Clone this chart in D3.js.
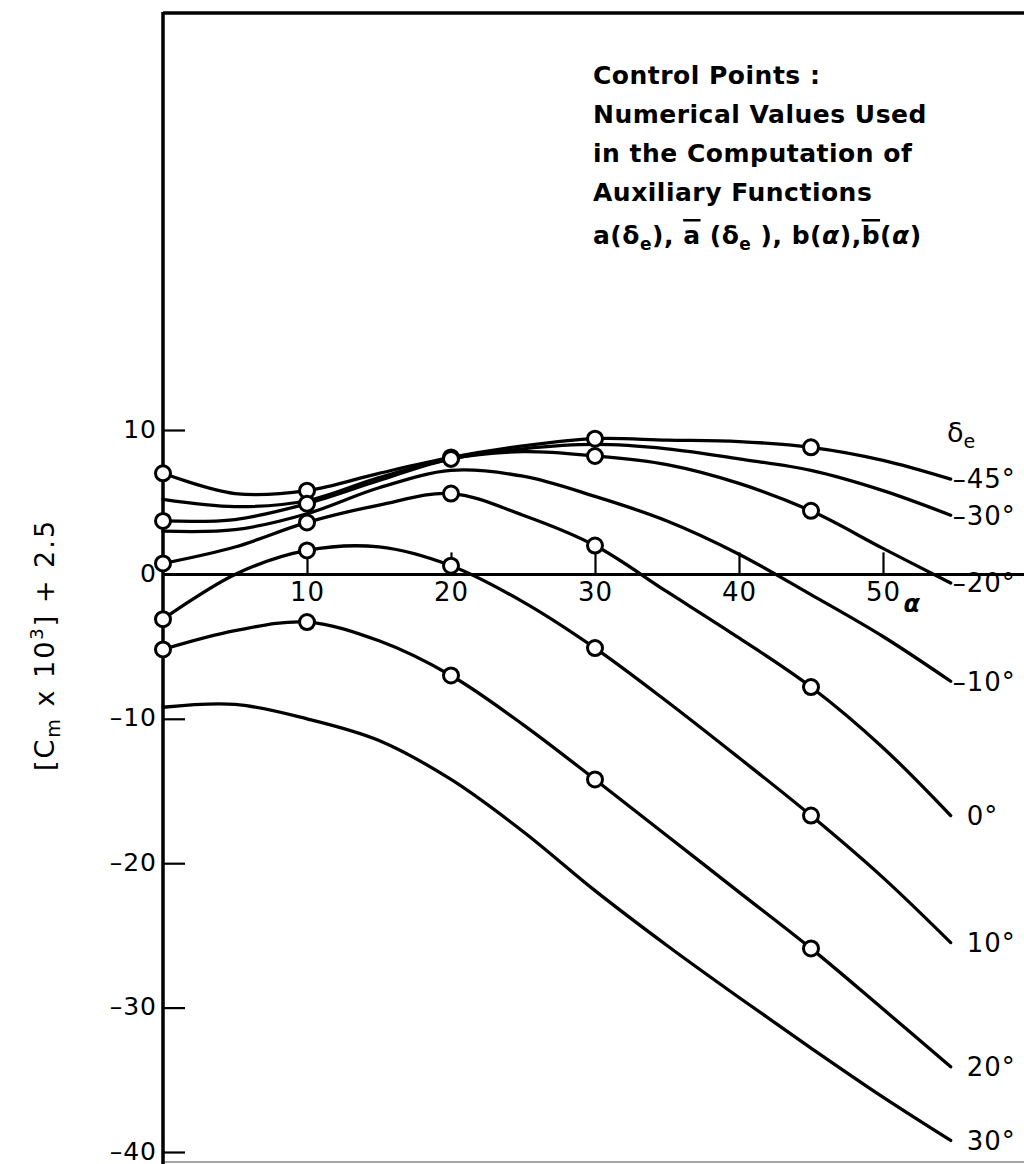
<!DOCTYPE html>
<html>
<head>
<meta charset="utf-8">
<script src="https://cdn.jsdelivr.net/npm/d3@7"></script>
<style>
  html, body { margin: 0; padding: 0; background: #fff; }
  svg { display: block; }
  text { font-family: "DejaVu Sans", sans-serif; fill: #000; }
</style>
</head>
<body>
<svg id="chart" width="1024" height="1164"></svg>
<script>
// ---- data ----
const alphaGrid = [0, 5, 10, 15, 20, 25, 30, 35, 40, 45, 50, 54.7];
const deltaLabels = ["-45°", "-30°", "-20°", "-10°", "0°", "10°", "20°", "30°"];
const cmDeltaM45 = [7.0, 5.6, 5.8, 7.0, 8.1, 8.9, 9.4, 9.3, 9.2, 8.8, 7.9, 6.6];
const cmDeltaM30 = [5.2, 4.7, 5.1, 6.7, 8.0, 8.7, 9.0, 8.7, 8.0, 7.2, 5.8, 4.1];
const cmDeltaM20 = [3.7, 3.8, 4.9, 6.5, 8.0, 8.5, 8.2, 7.6, 6.3, 4.4, 1.8, -0.6];
const cmDeltaM10 = [3.0, 3.1, 4.2, 6.0, 7.2, 6.8, 5.4, 3.7, 1.4, -1.4, -4.3, -7.4];
const cmDelta0   = [0.76, 1.9, 3.6, 4.8, 5.6, 4.1, 2.0, -1.2, -4.4, -7.8, -12.0, -16.7];
const cmDelta10  = [-3.1, 0.0, 1.66, 1.9, 0.6, -1.9, -5.1, -8.8, -12.7, -16.7, -21.0, -25.5];
const cmDelta20  = [-5.2, -3.9, -3.3, -4.6, -7.0, -10.4, -14.2, -18.1, -22.0, -25.9, -30.1, -34.1];
const cmDelta30  = [-9.2, -9.0, -10.0, -11.5, -14.2, -17.8, -21.9, -25.7, -29.3, -32.8, -36.2, -39.2];
const seriesValues = [cmDeltaM45, cmDeltaM30, cmDeltaM20, cmDeltaM10, cmDelta0, cmDelta10, cmDelta20, cmDelta30];
const controlAlpha = [0, 10, 20, 30, 45];
const controlCurves = ["-45°", "-20°", "0°", "10°", "20°"];
const xTickValues = [10, 20, 30, 40, 50];
const yTickValues = [10, 0, -10, -20, -30, -40];
const noteLines = ["Control Points :", "Numerical Values Used", "in the Computation of", "Auxiliary Functions"];

// ---- layout ----
const svg = d3.select("#chart");
const x = d3.scaleLinear().domain([0, 50]).range([163, 883]);
const y = d3.scaleLinear().domain([-40, 10]).range([1152, 430]);
const LW = 3.3;

// frame
svg.append("line").attr("x1", 163).attr("x2", 1024).attr("y1", 13).attr("y2", 13)
  .attr("stroke", "#000").attr("stroke-width", 3.5);
svg.append("line").attr("x1", 163).attr("x2", 1024).attr("y1", 1162).attr("y2", 1162)
  .attr("stroke", "#888").attr("stroke-width", 1.5);
svg.append("line").attr("x1", 163).attr("x2", 163).attr("y1", 12).attr("y2", 1164)
  .attr("stroke", "#000").attr("stroke-width", 3.5);
// x axis line at 0
svg.append("line").attr("x1", 163).attr("x2", 1024).attr("y1", y(0)).attr("y2", y(0))
  .attr("stroke", "#000").attr("stroke-width", 3);

// x axis ticks & labels
const xAxis = d3.axisBottom(x).tickValues(xTickValues).tickSizeInner(-22).tickSizeOuter(0).tickPadding(8);
const gx = svg.append("g").attr("transform", `translate(0,${y(0)})`).call(xAxis);
gx.select(".domain").remove();
gx.selectAll(".tick line").attr("stroke", "#000").attr("stroke-width", 2.2);
gx.selectAll(".tick text").attr("font-size", 26).attr("font-family", "DejaVu Sans")
  .attr("letter-spacing", 1).attr("fill", "#000");

// y axis ticks & labels
const yAxis = d3.axisLeft(y).tickValues(yTickValues).tickSizeInner(-22).tickSizeOuter(0).tickPadding(6)
  .tickFormat(d => d < 0 ? "–" + Math.abs(d) : String(d));
const gy = svg.append("g").attr("transform", "translate(163,0)").call(yAxis);
gy.select(".domain").remove();
gy.selectAll(".tick line").attr("stroke", "#000").attr("stroke-width", 2.2);
gy.selectAll(".tick text").attr("font-size", 25).attr("font-family", "DejaVu Sans")
  .attr("letter-spacing", 1).attr("fill", "#000").attr("dy", "0.28em");

// alpha label on x axis
svg.append("text").attr("x", x(52)).attr("y", y(0) + 38).attr("font-size", 24)
  .attr("font-style", "italic").attr("font-weight", "bold").attr("text-anchor", "middle").text("α");

// y axis title
const yt = svg.append("text").attr("transform", "translate(54,645) rotate(-90)")
  .attr("text-anchor", "middle").attr("font-size", 27).attr("letter-spacing", 2);
yt.append("tspan").text("[C");
yt.append("tspan").attr("font-size", 19).attr("dy", 6).text("m");
yt.append("tspan").attr("dy", -6).text(" x 10");
yt.append("tspan").attr("font-size", 18).attr("dy", -11).text("3");
yt.append("tspan").attr("dy", 11).text("] + 2.5");

// curves
const line = d3.line().x(d => x(d[0])).y(d => y(d[1])).curve(d3.curveCatmullRom.alpha(0.5));
const curves = deltaLabels.map((lab, i) => ({ lab, pts: alphaGrid.map((a, j) => [a, seriesValues[i][j]]) }));
svg.append("g").selectAll("path").data(curves).join("path")
  .attr("d", d => line(d.pts)).attr("fill", "none").attr("stroke", "#000")
  .attr("stroke-width", LW).attr("stroke-linecap", "round");

// control points
const ctrl = [];
controlCurves.forEach(lab => {
  const i = deltaLabels.indexOf(lab);
  controlAlpha.forEach(a => {
    const j = alphaGrid.indexOf(a);
    ctrl.push([a, seriesValues[i][j]]);
  });
});
svg.append("g").selectAll("circle").data(ctrl).join("circle")
  .attr("cx", d => x(d[0])).attr("cy", d => y(d[1])).attr("r", 7.5)
  .attr("fill", "#fff").attr("stroke", "#000").attr("stroke-width", 3);

// curve labels
svg.append("g").selectAll("text").data(curves).join("text")
  .attr("x", d => x(d.pts[d.pts.length - 1][0]) + (d.lab.startsWith("-") ? 2 : 16))
  .attr("y", d => y(d.pts[d.pts.length - 1][1]))
  .attr("dy", "0.36em").attr("font-size", 26).attr("letter-spacing", 1)
  .text(d => d.lab.replace("-", "–"));

// delta_e header
const de = svg.append("text").attr("x", 947).attr("y", 442).attr("font-size", 27);
de.append("tspan").text("δ");
de.append("tspan").attr("font-size", 19).attr("dy", 6).text("e");

// note text
const note = svg.append("g").attr("font-size", 25).attr("font-weight", "bold");
noteLines.forEach((t, i) => {
  note.append("text").attr("x", 593).attr("y", 84 + i * 39).attr("letter-spacing", 0.5).text(t);
});
const last = note.append("text").attr("x", 593).attr("y", 84 + 4 * 40).attr("letter-spacing", 0.5);
last.append("tspan").text("a(δ");
last.append("tspan").attr("font-size", 17).attr("dy", 6).text("e");
last.append("tspan").attr("dy", -6).text("), ");
last.append("tspan").attr("text-decoration", "overline").text("a");
last.append("tspan").text(" (δ");
last.append("tspan").attr("font-size", 17).attr("dy", 6).text("e");
last.append("tspan").attr("dy", -6).text(" ), b(");
last.append("tspan").attr("font-style", "italic").text("α");
last.append("tspan").text("),");
last.append("tspan").attr("text-decoration", "overline").text("b");
last.append("tspan").text("(");
last.append("tspan").attr("font-style", "italic").text("α");
last.append("tspan").text(")");
</script>
</body>
</html>
